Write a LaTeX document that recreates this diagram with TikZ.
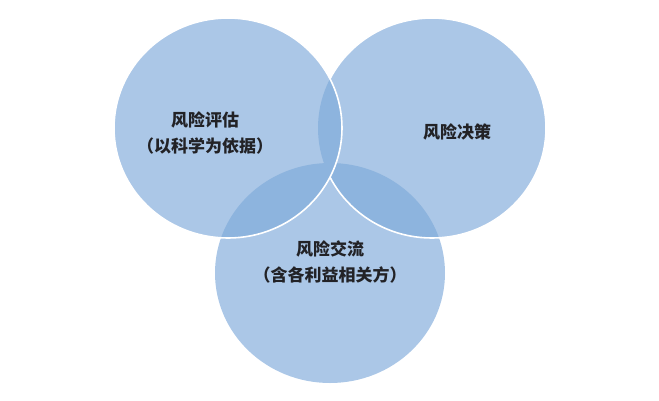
\documentclass[tikz,border=0pt]{standalone}
\usepackage{fontspec}
\newfontfamily\cjk{Noto Sans CJK SC}
\definecolor{lobeblue}{RGB}{171,199,231}
\definecolor{lensblue}{RGB}{141,180,222}
\definecolor{inkgray}{RGB}{34,34,38}
\begin{document}
\begin{tikzpicture}[x=1pt, y=-1pt,
		lobe/.style={fill=lobeblue},
		rim/.style={draw=white, line width=1.6pt},
		lens/.style={fill=lensblue},
		cjktext/.style={text=inkgray, align=center, inner sep=0pt,
			font=\cjk\bfseries\fontsize{17}{26}\selectfont},
	]
	\useasboundingbox (0,0) rectangle (659,400);
	\coordinate (L) at (228,128); % risk assessment
	\coordinate (R) at (432,128); % risk decision
	\coordinate (B) at (330,273); % risk communication

	\fill[lobe] (B) ellipse [x radius=115, y radius=110];
	\fill[lobe] (R) ellipse [x radius=114, y radius=110];
	\begin{scope}
		\clip (R) ellipse [x radius=114, y radius=110];
		\fill[lens] (B) ellipse [x radius=115, y radius=110];
	\end{scope}
	\draw[rim] (R) ellipse [x radius=114, y radius=110];
	%
	\fill[lobe] (L) ellipse [x radius=114, y radius=110];
	\begin{scope}
		\clip (L) ellipse [x radius=114, y radius=110];
		\fill[lens] (R) ellipse [x radius=114, y radius=110];
		\fill[lens] (B) ellipse [x radius=115, y radius=110];
	\end{scope}
	\draw[rim] (L) ellipse [x radius=114, y radius=110];

	\node[cjktext] (assess) at (205,133) {风险评估\\（以科学为依据）};
	\node[cjktext] (decide) at (457,132) {风险决策};
	\node[cjktext] (commun) at (330,262) {风险交流\\（含各利益相关方）};
\end{tikzpicture}
\end{document}
